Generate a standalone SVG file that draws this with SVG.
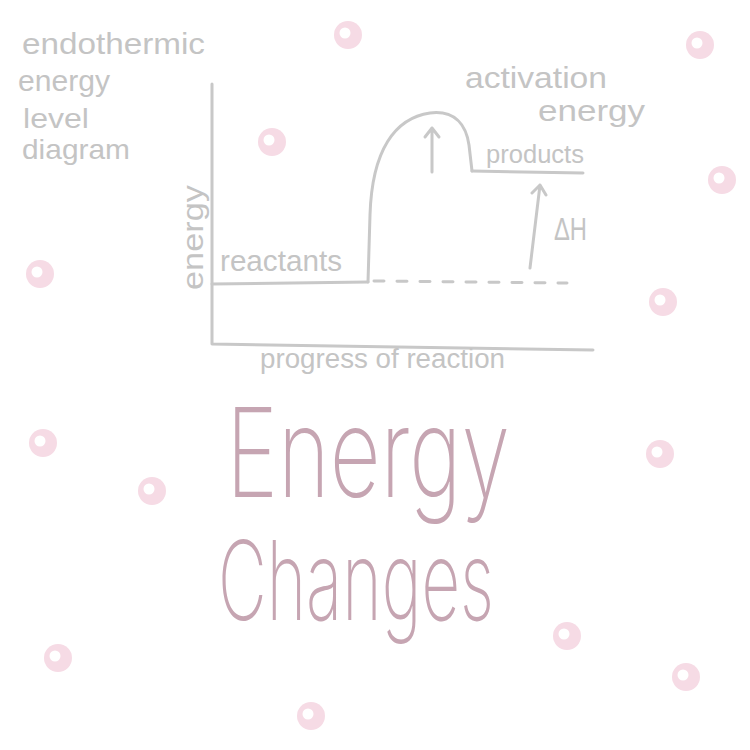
<svg xmlns="http://www.w3.org/2000/svg" width="750" height="750" viewBox="0 0 750 750">
<style>
.lbl{font-family:"Liberation Sans","DejaVu Sans",sans-serif;fill:#c4c4c4}
.ln{fill:none;stroke:#c8c8c8;stroke-width:3;stroke-linecap:round;stroke-linejoin:round}
.title{font-family:"Inter","Lato","Open Sans",sans-serif;font-weight:200;fill:#c6a5b2}
</style>
<defs>
<g id="dot"><circle r="14" fill="#f6dbe5"/><circle cx="-3" cy="-2" r="5.5" fill="#fff"/></g>
</defs>
<rect width="750" height="750" fill="#fff"/>
<g id="dots">
<use href="#dot" x="348" y="35"/>
<use href="#dot" x="700" y="45"/>
<use href="#dot" x="272" y="142"/>
<use href="#dot" x="722" y="180"/>
<use href="#dot" x="40" y="274"/>
<use href="#dot" x="663" y="302"/>
<use href="#dot" x="43" y="443"/>
<use href="#dot" x="660" y="454"/>
<use href="#dot" x="152" y="491"/>
<use href="#dot" x="567" y="636"/>
<use href="#dot" x="58" y="658"/>
<use href="#dot" x="686" y="677"/>
<use href="#dot" x="311" y="716"/>
</g>
<g id="heading">
<text class="lbl" x="22" y="54" font-size="30" textLength="183" lengthAdjust="spacingAndGlyphs">endothermic</text>
<text class="lbl" x="18" y="91" font-size="30" textLength="92" lengthAdjust="spacingAndGlyphs">energy</text>
<text class="lbl" x="23" y="128" font-size="28" textLength="66" lengthAdjust="spacingAndGlyphs">level</text>
<text class="lbl" x="22" y="159" font-size="28" textLength="108" lengthAdjust="spacingAndGlyphs">diagram</text>
</g>
<g id="axes">
<path class="ln" d="M212 84 L212 344 L593 350"/>
<text class="lbl" x="203" y="290" font-size="30" textLength="105" lengthAdjust="spacingAndGlyphs" transform="rotate(-90 203 290)">energy</text>
<text class="lbl" x="260" y="368" font-size="27" textLength="245" lengthAdjust="spacingAndGlyphs">progress of reaction</text>
</g>
<g id="reactants">
<path class="ln" d="M212 284 L368 282"/>
<text class="lbl" x="220" y="271" font-size="29" textLength="122" lengthAdjust="spacingAndGlyphs">reactants</text>
</g>
<g id="curve">
<path class="ln" d="M368 282 L370 215 C372 150 395 118 430 113 C455 110 466 125 469 145 L472 171"/>
</g>
<g id="products">
<path class="ln" d="M472 171 L583 173"/>
<text class="lbl" x="486" y="163" font-size="26" textLength="98" lengthAdjust="spacingAndGlyphs">products</text>
</g>
<g id="activation">
<text class="lbl" x="465" y="88" font-size="29" textLength="142" lengthAdjust="spacingAndGlyphs">activation</text>
<text class="lbl" x="538" y="121" font-size="29" textLength="107" lengthAdjust="spacingAndGlyphs">energy</text>
</g>
<g id="connectors">
<path class="ln" d="M374 281 L567 283" stroke-dasharray="10 13"/>
<path class="ln" d="M432 172 L432 128 M425 137 L432 128 L439 137"/>
<path class="ln" d="M530 268 L540 185 M532 193 L540 185 L546 195"/>
</g>
<g id="dH">
<text class="lbl" x="554" y="240" font-size="31" textLength="33" lengthAdjust="spacingAndGlyphs">ΔH</text>
</g>
<g id="title">
<text class="title" x="226" y="497" font-size="124" textLength="284" lengthAdjust="spacingAndGlyphs">Energy</text>
<text class="title" x="218" y="620" font-size="110" textLength="276" lengthAdjust="spacingAndGlyphs">Changes</text>
</g>
</svg>
